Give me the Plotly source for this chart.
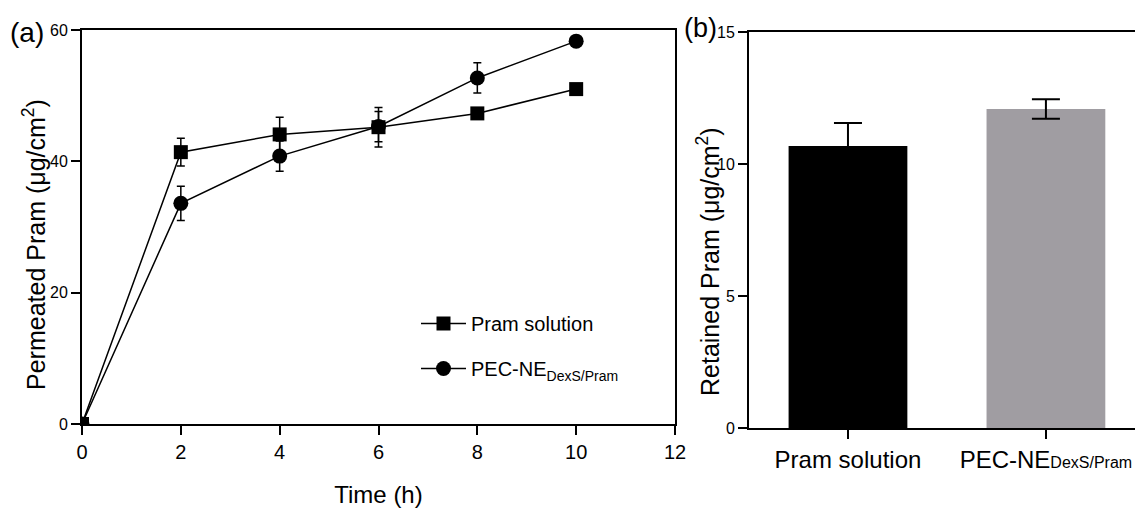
import plotly.graph_objects as go

# ---- data ----
time_h = [0, 2, 4, 6, 8, 10]
pram_solution = [0, 41.4, 44.1, 45.2, 47.3, 51.0]
pram_solution_err = [0, 2.1, 2.6, 3.0, 0.5, 0.5]
pec_ne = [0, 33.6, 40.8, 45.3, 52.7, 58.3]
pec_ne_err = [0, 2.6, 2.3, 2.3, 2.3, 0.5]

bar_categories = ["Pram solution", "PEC-NE<span style=\"font-size:16px\">DexS/Pram</span>"]
retained = [10.68, 12.08]
retained_err = [0.87, 0.37]
bar_colors = ["#000000", "#a09da2"]

x_ticks_a = [0, 2, 4, 6, 8, 10, 12]
y_ticks_a = [0, 20, 40, 60]
y_ticks_b = [0, 5, 10, 15]

FONT = "Liberation Sans, Arial, sans-serif"

ML, MR, MT, MB = 82, 0, 30, 81
W, H = 1135, 509
plot_w = W - ML - MR
plot_h = H - MT - MB


def px_x(px):
    return (px - ML) / plot_w


def px_y(py):
    return (H - MB - py) / plot_h


fig = go.Figure()

fig.add_trace(go.Scatter(
    x=time_h, y=pram_solution, name="Pram solution", mode="lines+markers",
    line=dict(color="black", width=1.5),
    marker=dict(symbol="square", size=14, color="black"),
    error_y=dict(type="data", array=pram_solution_err, visible=True,
                 color="black", thickness=1.5, width=4),
    legendgroup="a", xaxis="x", yaxis="y"))

fig.add_trace(go.Scatter(
    x=time_h, y=pec_ne, name="PEC-NE<sub>DexS/Pram</sub>", mode="lines+markers",
    line=dict(color="black", width=1.5),
    marker=dict(symbol="circle", size=15, color="black"),
    error_y=dict(type="data", array=pec_ne_err, visible=True,
                 color="black", thickness=1.5, width=4),
    legendgroup="b", xaxis="x", yaxis="y"))

fig.add_trace(go.Bar(
    x=bar_categories, y=retained, width=0.6,
    marker=dict(color=bar_colors, line=dict(width=0)),
    error_y=dict(type="data", array=retained_err, visible=True,
                 color="black", thickness=2, width=14),
    showlegend=False, xaxis="x2", yaxis="y2"))

axis_common = dict(showline=True, linecolor="black", linewidth=2,
                   ticks="outside", ticklen=9, tickwidth=2, tickcolor="black",
                   showgrid=False, zeroline=False, automargin=False)

fig.update_layout(
    width=W, height=H,
    margin=dict(l=ML, r=MR, t=MT, b=MB),
    paper_bgcolor="white", plot_bgcolor="white",
    font=dict(family=FONT, color="black"),
    showlegend=True,
    legend=dict(x=px_x(416), y=px_y(346), xanchor="left", yanchor="middle",
                bgcolor="rgba(0,0,0,0)", font=dict(size=20, family=FONT),
                tracegroupgap=16, itemwidth=45),
    xaxis=dict(domain=[0, px_x(675)], range=[0, 12], tickvals=x_ticks_a,
               mirror=True, tickfont=dict(size=20),
               title=dict(text="Time (h)", font=dict(size=24), standoff=24),
               **axis_common),
    yaxis=dict(domain=[px_y(424), 1], range=[0, 60], tickvals=y_ticks_a,
               mirror=True, tickfont=dict(size=16),
               anchor="x", **axis_common),
    xaxis2=dict(domain=[px_x(749), 1], range=[-0.5, 1.45], type="category",
                mirror=True, tickfont=dict(size=24), anchor="y2",
                **axis_common),
    yaxis2=dict(domain=[0, px_y(32)], range=[0, 15], tickvals=y_ticks_b,
                mirror=False, tickfont=dict(size=16), anchor="x2",
                **axis_common),
    annotations=[
        dict(text="Permeated Pram (μg/cm<sup>2</sup>)", textangle=-90,
             x=px_x(34), y=px_y(245), xref="paper", yref="paper", showarrow=False,
             font=dict(size=25), xanchor="center", yanchor="middle"),
        dict(text="Retained Pram (μg/cm<sup>2</sup>)", textangle=-90,
             x=px_x(708), y=px_y(262), xref="paper", yref="paper", showarrow=False,
             font=dict(size=25), xanchor="center", yanchor="middle"),
        dict(text="(a)", x=px_x(8), y=px_y(33), xref="paper", yref="paper", showarrow=False,
             font=dict(size=28), xanchor="left", yanchor="middle"),
        dict(text="(b)", x=px_x(682), y=px_y(28), xref="paper", yref="paper", showarrow=False,
             font=dict(size=27), xanchor="left", yanchor="middle"),
    ],
)

fig.write_html("out.html")
